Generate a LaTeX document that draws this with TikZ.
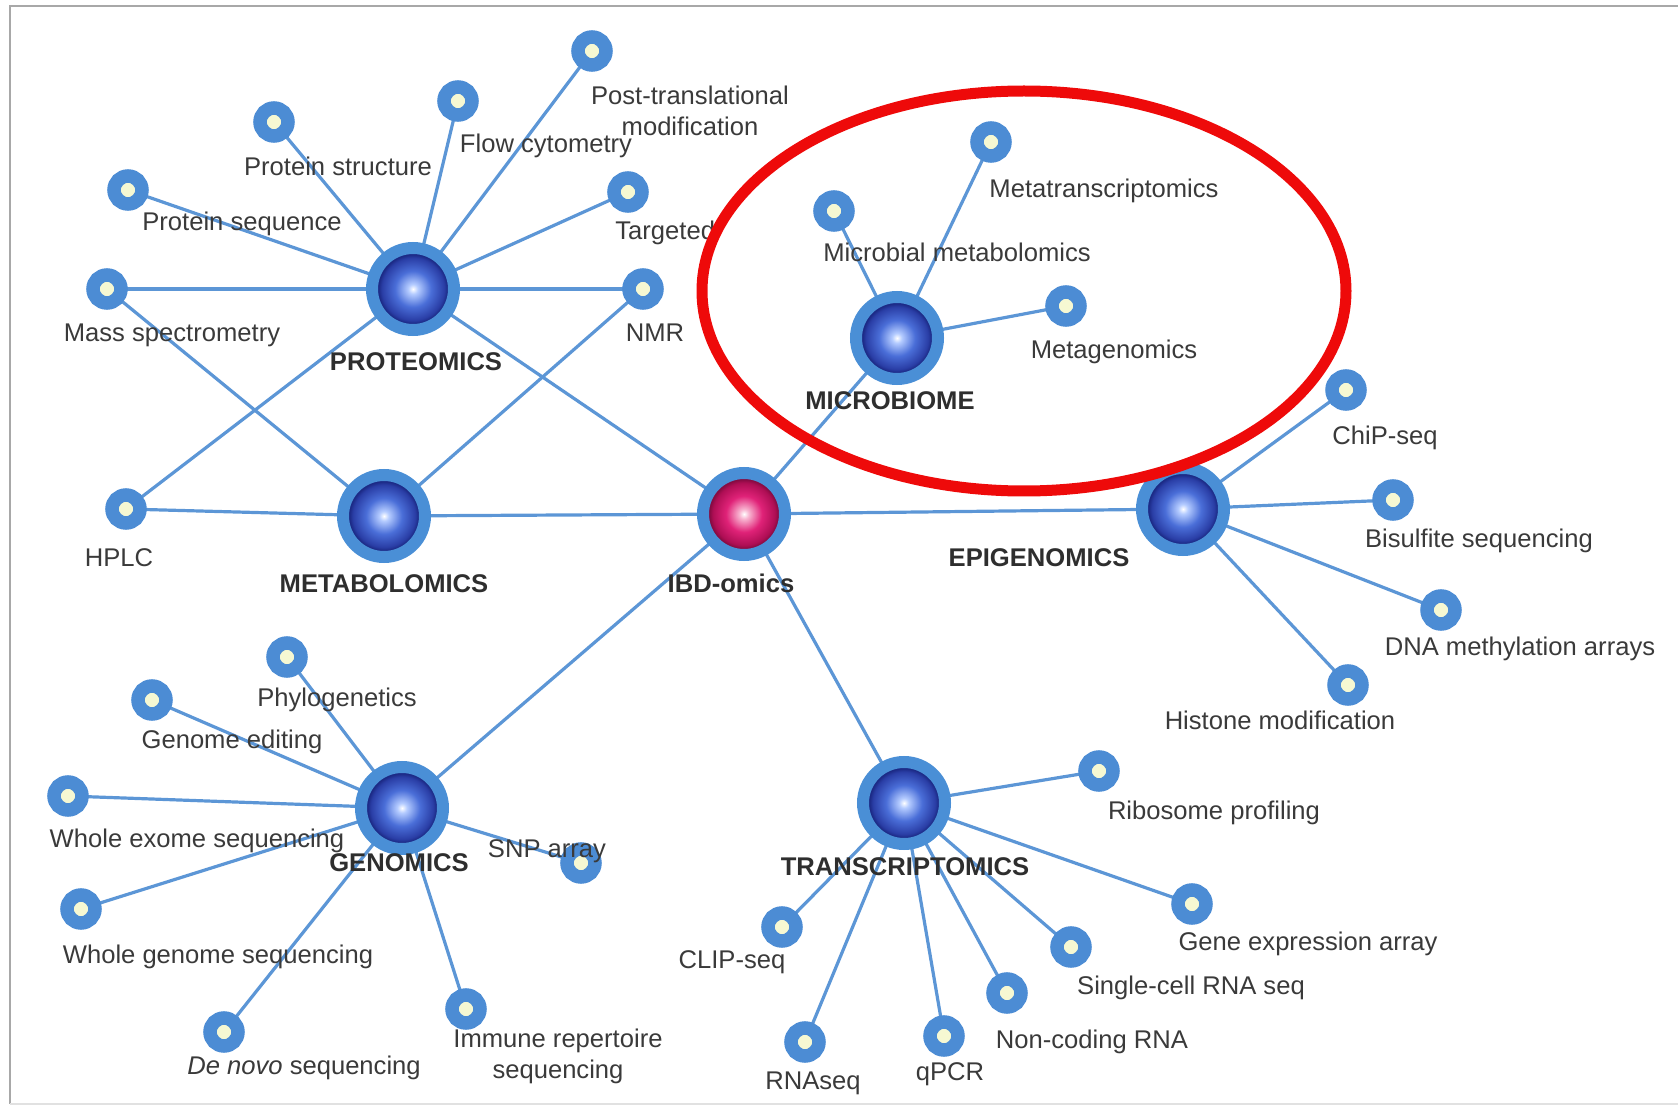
\documentclass[tikz,border=0pt]{standalone}
\usepackage{fontspec}
\setmainfont{Liberation Sans}
\usetikzlibrary{backgrounds, shapes.geometric}
\definecolor{hubRing}{HTML}{4A8FD6}
\definecolor{leafRing}{HTML}{4C8CD4}
\definecolor{leafCore}{HTML}{F6F8D2}
\definecolor{linkBlue}{HTML}{5C96D6}
\definecolor{ballLight}{HTML}{B4CBFF}
\definecolor{ballMid}{HTML}{4A6ED8}
\definecolor{ballDeep}{HTML}{2A3EA6}
\definecolor{ballNavy}{HTML}{1C2A86}
\definecolor{coreLight}{HTML}{F8B4D0}
\definecolor{coreMid}{HTML}{E02278}
\definecolor{coreDeep}{HTML}{AE0E54}
\definecolor{coreNavy}{HTML}{860B42}
\definecolor{labelGray}{HTML}{3A3A3A}
\definecolor{hubText}{HTML}{2E2E2E}
\definecolor{focusRed}{HTML}{EE0A0A}
\definecolor{frameGray}{HTML}{A8A8A8}
\pgfdeclareradialshading{hubball}{\pgfpointorigin}{color(0bp)=(white); color(3bp)=(ballLight); color(11bp)=(ballMid); color(19bp)=(ballDeep); color(21bp)=(ballNavy); color(50bp)=(ballNavy)}
\pgfdeclareradialshading{coreball}{\pgfpointorigin}{color(0bp)=(white); color(3bp)=(coreLight); color(11bp)=(coreMid); color(19bp)=(coreDeep); color(21bp)=(coreNavy); color(50bp)=(coreNavy)}

\begin{document}
\begin{tikzpicture}[
    x=0.5pt, y=-0.5pt,
    omicsbase/.style={font=\fontsize{12.8}{15.5}\selectfont, text=labelGray, inner sep=0pt, align=center},
    omicstxt/.style={omicsbase, text height=11pt, text depth=2.5pt},
    hubtxt/.style={omicstxt, font=\fontsize{12.8}{15.5}\selectfont\bfseries, text=hubText},
    leaf/.style={circle, draw=leafRing, line width=6.75pt, fill=leafCore, minimum size=14pt, inner sep=0pt},
    hub/.style={circle, draw=hubRing, line width=6pt, shading=hubball, minimum size=41pt, inner sep=0pt},
    core/.style={hub, shading=coreball},
    link/.style={draw=linkBlue, line width=1.6pt},
    focus/.style={ellipse, draw=focusRed, line width=5.5pt, minimum width=322pt, minimum height=200pt, inner sep=0pt}
  ]
    \useasboundingbox (0,0) rectangle (1678,1107);

    % hubs
    \node[core] (ibd) at (744,514) {};
    \node[hub] (prot) at (413,289) {};
    \node[hub] (meta) at (384,516) {};
    \node[hub] (micro) at (897,338) {};
    \node[hub] (epi) at (1183,509) {};
    \node[hub] (gen) at (402,808) {};
    \node[hub] (trans) at (904,803) {};

    % proteomics / metabolomics leaves
    \node[leaf] (pseq) at (128,190) {};
    \node[leaf] (pstruct) at (274,122) {};
    \node[leaf] (flow) at (458,101) {};
    \node[leaf] (ptm) at (592,51) {};
    \node[leaf] (targ) at (628,192) {};
    \node[leaf] (mass) at (107,289) {};
    \node[leaf] (nmr) at (643,289) {};
    \node[leaf] (hplc) at (126,509) {};

    % microbiome leaves
    \node[leaf] (mtrans) at (991,142) {};
    \node[leaf] (mmet) at (834,211) {};
    \node[leaf] (mgen) at (1066,306) {};

    % epigenomics leaves
    \node[leaf] (chip) at (1346,390) {};
    \node[leaf] (bisul) at (1393,500) {};
    \node[leaf] (dnam) at (1441,610) {};
    \node[leaf] (hist) at (1348,685) {};

    % genomics leaves
    \node[leaf] (phylo) at (287,657) {};
    \node[leaf] (gedit) at (152,700) {};
    \node[leaf] (wes) at (68,796) {};
    \node[leaf] (wgs) at (81,909) {};
    \node[leaf] (denovo) at (224,1032) {};
    \node[leaf] (immune) at (466,1009) {};
    \node[leaf] (snp) at (581,863) {};

    % transcriptomics leaves
    \node[leaf] (ribo) at (1099,771) {};
    \node[leaf] (gexp) at (1192,904) {};
    \node[leaf] (sc) at (1071,947) {};
    \node[leaf] (ncrna) at (1007,993) {};
    \node[leaf] (qpcr) at (944,1036) {};
    \node[leaf] (rnaseq) at (805,1042) {};
    \node[leaf] (clip) at (782,927) {};

    % labels
    \node[hubtxt] (ibdlbl) at (731,584) {IBD-omics};
    \node[hubtxt] (protlbl) at (416,362) {PROTEOMICS};
    \node[hubtxt] (metalbl) at (384,584) {METABOLOMICS};
    \node[hubtxt] (microlbl) at (890,401) {MICROBIOME};
    \node[hubtxt] (epilbl) at (1039,558) {EPIGENOMICS};
    \node[hubtxt] (genlbl) at (399,863) {GENOMICS};
    \node[hubtxt] (translbl) at (905,867) {TRANSCRIPTOMICS};

    \node[omicsbase] (ptmlbl) at (690,111) {Post-translational\\modification};
    \node[omicstxt] (flowlbl) at (546,144) {Flow cytometry};
    \node[omicstxt] (pstructlbl) at (338,167) {Protein structure};
    \node[omicstxt] (pseqlbl) at (242,222) {Protein sequence};
    \node[omicstxt, anchor=west] (targlbl) at (615,231) {Targeted};
    \node[omicstxt] (masslbl) at (172,333) {Mass spectrometry};
    \node[omicstxt] (nmrlbl) at (655,333) {NMR};
    \node[omicstxt] (hplclbl) at (119,558) {HPLC};

    \node[omicstxt] (mtranslbl) at (1104,189) {Metatranscriptomics};
    \node[omicstxt] (mmetlbl) at (957,253) {Microbial metabolomics};
    \node[omicstxt] (mgenlbl) at (1114,350) {Metagenomics};

    \node[omicstxt] (chiplbl) at (1385,436) {ChiP-seq};
    \node[omicstxt] (bisullbl) at (1479,539) {Bisulfite sequencing};
    \node[omicstxt] (dnamlbl) at (1520,647) {DNA methylation arrays};
    \node[omicstxt] (histlbl) at (1280,721) {Histone modification};

    \node[omicstxt] (phylolbl) at (337,698) {Phylogenetics};
    \node[omicstxt] (geditlbl) at (232,740) {Genome editing};
    \node[omicstxt] (weslbl) at (197,839) {Whole exome sequencing};
    \node[omicstxt] (snplbl) at (547,849) {SNP array};
    \node[omicstxt] (wgslbl) at (218,955) {Whole genome sequencing};
    \node[omicstxt] (denovolbl) at (304,1066) {\textit{De novo} sequencing};
    \node[omicsbase] (immunelbl) at (558,1056) {Immune repertoire\\sequencing};

    \node[omicstxt] (ribolbl) at (1214,811) {Ribosome profiling};
    \node[omicstxt] (gexplbl) at (1308,942) {Gene expression array};
    \node[omicstxt] (cliplbl) at (732,960) {CLIP-seq};
    \node[omicstxt] (sclbl) at (1191,986) {Single-cell RNA seq};
    \node[omicstxt] (ncrnalbl) at (1092,1040) {Non-coding RNA};
    \node[omicstxt] (rnaseqlbl) at (813,1081) {RNAseq};
    \node[omicstxt] (qpcrlbl) at (950,1072) {qPCR};

    \begin{pgfonlayer}{background}
      % frame
      \draw[frameGray, line width=1.2pt] (10,1104) -- (10,6) -- (1678,6);
      \draw[frameGray!35, line width=1pt] (10,1104) -- (1678,1104);
      % links
      \foreach \a in {prot, meta, micro, epi, gen, trans}
        \draw[link] (ibd.center) -- (\a.center);
      \foreach \a in {pseq, pstruct, flow, ptm, targ, mass, nmr, hplc}
        \draw[link] (prot.center) -- (\a.center);
      \foreach \a in {mass, nmr, hplc}
        \draw[link] (meta.center) -- (\a.center);
      \foreach \a in {mtrans, mmet, mgen}
        \draw[link] (micro.center) -- (\a.center);
      \foreach \a in {chip, bisul, dnam, hist}
        \draw[link] (epi.center) -- (\a.center);
      \foreach \a in {phylo, gedit, wes, wgs, denovo, immune, snp}
        \draw[link] (gen.center) -- (\a.center);
      \foreach \a in {ribo, gexp, sc, ncrna, qpcr, rnaseq, clip}
        \draw[link] (trans.center) -- (\a.center);
    \end{pgfonlayer}

    % highlight
    \node[focus] (microfocus) at (1024,291) {};
\end{tikzpicture}
\end{document}
